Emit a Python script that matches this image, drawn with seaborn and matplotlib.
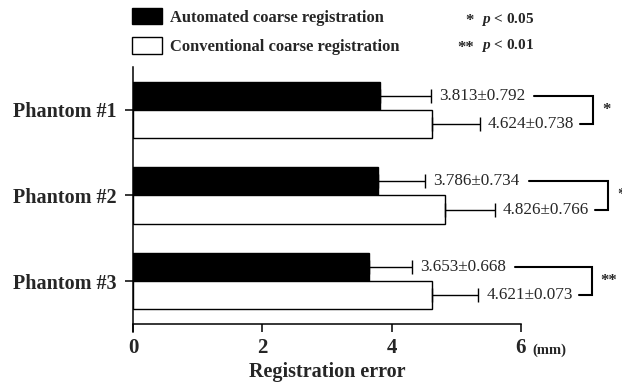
import numpy as np
import pandas as pd
import matplotlib
matplotlib.use("Agg")
import matplotlib.pyplot as plt
import seaborn as sns

# ---- data ----
phantoms = ["Phantom #1", "Phantom #2", "Phantom #3"]
groups = ["Automated coarse registration", "Conventional coarse registration"]
mean_auto = [3.813, 3.786, 3.653]
mean_conv = [4.624, 4.826, 4.621]
err_auto = [0.792, 0.734, 0.668]      # drawn error lengths
err_conv = [0.738, 0.766, 0.72]
label_auto = ["3.813±0.792", "3.786±0.734", "3.653±0.668"]
label_conv = ["4.624±0.738", "4.826±0.766", "4.621±0.073"]
sig_marks = ["*", "*", "**"]
x_ticks = [0, 2, 4, 6]

df = pd.DataFrame({
    "phantom": phantoms * 2,
    "group": [groups[0]] * 3 + [groups[1]] * 3,
    "error": mean_auto + mean_conv,
})

sns.set_theme(style="ticks")
plt.rcParams["font.family"] = ["Liberation Serif", "DejaVu Serif"]
plt.rcParams["mathtext.fontset"] = "custom"
plt.rcParams["mathtext.it"] = "Liberation Serif:bold:italic"
plt.rcParams["mathtext.rm"] = "Liberation Serif:bold"

W, H = 622, 386
fig = plt.figure(figsize=(W / 100, H / 100), dpi=100)
ax = fig.add_axes([133 / W, 1 - 324 / H, (521 - 133) / W, (324 - 67) / H])

sns.barplot(data=df, y="phantom", x="error", hue="group", orient="h",
            palette=["black", "white"], edgecolor="black", linewidth=1.0,
            width=0.655, ax=ax, legend=False, errorbar=None, saturation=1)

ax.set_xlim(0, 6)
ax.set_ylim(2.5, -0.5)
ax.set_xticks(x_ticks)
ax.set_xticklabels([str(t) for t in x_ticks], fontsize=15, fontweight="bold")
ax.set_yticks(range(len(phantoms)))
ax.set_yticklabels(phantoms, fontsize=14.5, fontweight="bold")
ax.set_ylabel("")
ax.set_xlabel("Registration error", fontsize=14.5, fontweight="bold", labelpad=3)
ax.tick_params(axis="both", direction="out", length=6, width=1.1, color="black")
ax.tick_params(axis="y", pad=6)
ax.tick_params(axis="x", pad=4)
for s in ["top", "right"]:
    ax.spines[s].set_visible(False)
for s in ["left", "bottom"]:
    ax.spines[s].set_linewidth(1.1)
    ax.spines[s].set_color("black")
ax.spines["left"].set_bounds(2.59, -0.5)

# error bars (one-sided) and value labels
means = [mean_auto, mean_conv]
errs = [err_auto, err_conv]
labels = [label_auto, label_conv]
text_objs = [[], []]
bar_y = [[], []]
bar_containers = list(ax.containers)
for gi, cont in enumerate(bar_containers):
    ys = [p.get_y() + p.get_height() / 2 for p in cont.patches]
    bar_y[gi] = ys
    ax.errorbar(means[gi], ys, xerr=[np.zeros(3), errs[gi]], fmt="none",
                ecolor="black", elinewidth=1.0, capsize=4.7, capthick=1.0,
                clip_on=False)
    for i in range(3):
        t = ax.annotate(labels[gi][i], xy=(means[gi][i] + errs[gi][i], ys[i]),
                        xytext=(8, 0), textcoords="offset pixels",
                        ha="left", va="center", fontsize=12.3,
                        annotation_clip=False)
        text_objs[gi].append(t)

# legend
handles = [plt.Rectangle((0, 0), 1, 1, facecolor=c, edgecolor="black", linewidth=1.0)
           for c in ["black", "white"]]
fig.legend(handles, groups, loc="upper left", bbox_to_anchor=(132 / W, 1 - 8 / H),
           frameon=False, borderpad=0, borderaxespad=0, handlelength=1.8,
           handleheight=1.15, handletextpad=0.5, labelspacing=0.7,
           prop={"family": "Liberation Serif", "weight": "bold", "size": 11.9})

# significance key
fig.text(474 / W, 1 - 21 / H, "*", ha="right", va="center", fontsize=12, fontweight="bold")
fig.text(481 / W, 1 - 19 / H, r"$p$ < 0.05", ha="left", va="center", fontsize=11, fontweight="bold")
fig.text(474 / W, 1 - 48 / H, "**", ha="right", va="center", fontsize=12, fontweight="bold")
fig.text(481 / W, 1 - 46 / H, r"$p$ < 0.01", ha="left", va="center", fontsize=11, fontweight="bold")

# unit
fig.text(532 / W, 1 - 350 / H, "(mm)", ha="left", va="center", fontsize=10.5, fontweight="bold")

# brackets
fig.canvas.draw()
r = fig.canvas.get_renderer()
inv = ax.transData.inverted()
for i in range(3):
    e_top = text_objs[0][i].get_window_extent(r).x1
    e_bot = text_objs[1][i].get_window_extent(r).x1
    vx = e_bot + 19
    yt = ax.transData.transform((0, bar_y[0][i]))[1]
    yb = ax.transData.transform((0, bar_y[1][i]))[1]
    xs_pix = [e_top + 9, vx, vx, e_bot + 6]
    ys_pix = [yt, yt, yb, yb]
    pts = inv.transform(np.column_stack([xs_pix, ys_pix]))
    ax.plot(pts[:, 0], pts[:, 1], color="black", lw=1.5, clip_on=False,
            solid_joinstyle="miter")
    sx, _ = inv.transform((vx + 9, 0))
    ax.text(sx, (bar_y[0][i] + bar_y[1][i]) / 2, sig_marks[i], ha="left", va="center",
            fontsize=12, fontweight="bold", clip_on=False)

fig.savefig("out.png", dpi=100)
